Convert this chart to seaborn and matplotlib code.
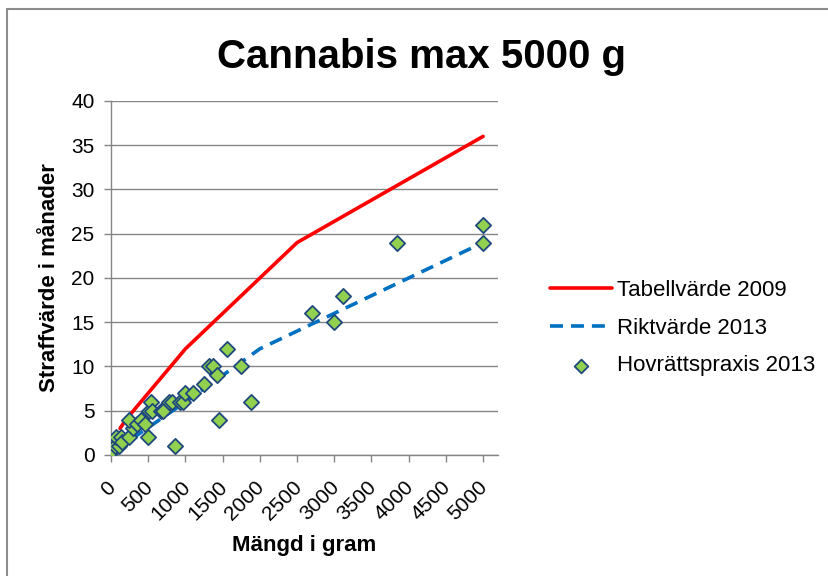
import matplotlib
matplotlib.use("Agg")
import matplotlib.pyplot as plt
import matplotlib.transforms as mtransforms
import seaborn as sns
import pandas as pd
from matplotlib.patches import Rectangle

# ---- data ----
tabell_x = [120, 200, 1000, 2500, 5000]
tabell_y = [3, 4, 12, 24, 36]

rikt_x = [50, 1000, 1500, 2000, 5000]
rikt_y = [0.5, 6, 9, 12, 24]

praxis_x = [10, 50, 110, 60, 130, 150, 240, 290, 240, 350, 400, 460, 490, 510, 540,
            550, 670, 700, 780, 820, 860, 920, 960, 1000, 1100, 1250, 1320, 1370,
            1430, 1450, 1560, 1750, 1880, 2700, 3000, 3120, 3840, 5000, 5000]
praxis_y = [0.5, 1, 1, 2, 2, 1.5, 2, 3, 4, 3.5, 4, 3.5, 2, 5, 6,
            5, 5, 5, 6, 6, 1, 6, 6, 7, 7, 8, 10, 10,
            9, 4, 12, 10, 6, 16, 15, 18, 24, 24, 26]

x_ticks = [0, 500, 1000, 1500, 2000, 2500, 3000, 3500, 4000, 4500, 5000]
y_ticks = [0, 5, 10, 15, 20, 25, 30, 35, 40]

title = "Cannabis max 5000 g"
xlabel = "Mängd i gram"
ylabel = "Straffvärde i månader"
labels = ["Tabellvärde 2009", "Riktvärde 2013", "Hovrättspraxis 2013"]

df_t = pd.DataFrame({"x": tabell_x, "y": tabell_y})
df_r = pd.DataFrame({"x": rikt_x, "y": rikt_y})
df_p = pd.DataFrame({"x": praxis_x, "y": praxis_y})

sns.set_theme(style="white")
plt.rcParams["font.family"] = ["Liberation Sans", "DejaVu Sans"]
plt.rcParams.update({"text.color": "black", "axes.labelcolor": "black",
                     "xtick.color": "black", "ytick.color": "black"})

fig = plt.figure(figsize=(8.29, 5.76), dpi=100)
ax = fig.add_axes([0.134, 0.2101, 0.4667, 0.6146])

sns.lineplot(data=df_t, x="x", y="y", ax=ax, color="#FF0000", lw=2.6,
             label=labels[0], sort=False, estimator=None)
sns.lineplot(data=df_r, x="x", y="y", ax=ax, color="#0070C0", lw=2.6,
             label=labels[1], sort=False, estimator=None, dashes=False)
ax.lines[-1].set_dashes([3.6, 2.2])
sns.scatterplot(data=df_p, x="x", y="y", ax=ax, marker="D", s=60,
                color="#92D050", edgecolor="#1F497D", linewidth=1.3,
                label=labels[2], zorder=5)

ax.set_xlim(0, 5200)
ax.set_ylim(0, 40)
ax.set_xticks(x_ticks)
ax.set_yticks(y_ticks)
ax.set_xticklabels([str(v) for v in x_ticks], rotation=45, ha="right",
                   rotation_mode="anchor", fontsize=15)
ax.set_yticklabels([str(v) for v in y_ticks], fontsize=15)
ax.tick_params(axis="both", which="both", direction="out", length=5,
               width=1, color="#868686", bottom=True, left=True, pad=7)
offset = mtransforms.ScaledTranslation(-5 / 100, -6 / 100, fig.dpi_scale_trans)
for lbl in ax.get_xticklabels():
    lbl.set_transform(lbl.get_transform() + offset)
ax.yaxis.grid(True, color="#868686", lw=1)
ax.xaxis.grid(False)
for s in ["top", "right"]:
    ax.spines[s].set_visible(False)
for s in ["left", "bottom"]:
    ax.spines[s].set_color("#868686")
    ax.spines[s].set_linewidth(1)

ax.set_xlabel(xlabel, fontsize=16, fontweight="bold")
ax.set_ylabel(ylabel, fontsize=16, fontweight="bold")
ax.xaxis.set_label_coords(0.5, -0.256)
ax.yaxis.set_label_coords(-0.16, 0.5)
ax.xaxis.label.set_va("center")
ax.yaxis.label.set_va("center")

fig.text(0.509, 0.882, title, fontsize=29, fontweight="bold",
         ha="center", va="baseline")

leg = ax.legend(loc="center left", bbox_to_anchor=(0.663, 0.430),
                bbox_transform=fig.transFigure, frameon=False, fontsize=16,
                handlelength=2.8, labelspacing=0.75, handletextpad=0.25,
                markerscale=0.9, borderaxespad=0, borderpad=0)

fig.patches.append(Rectangle((7 / 829, -0.1), 1.2, 1.1 - 8.5 / 576,
                             transform=fig.transFigure, fill=False,
                             edgecolor="#8C8C8C", lw=1.5))

fig.savefig("out.png", dpi=100)
